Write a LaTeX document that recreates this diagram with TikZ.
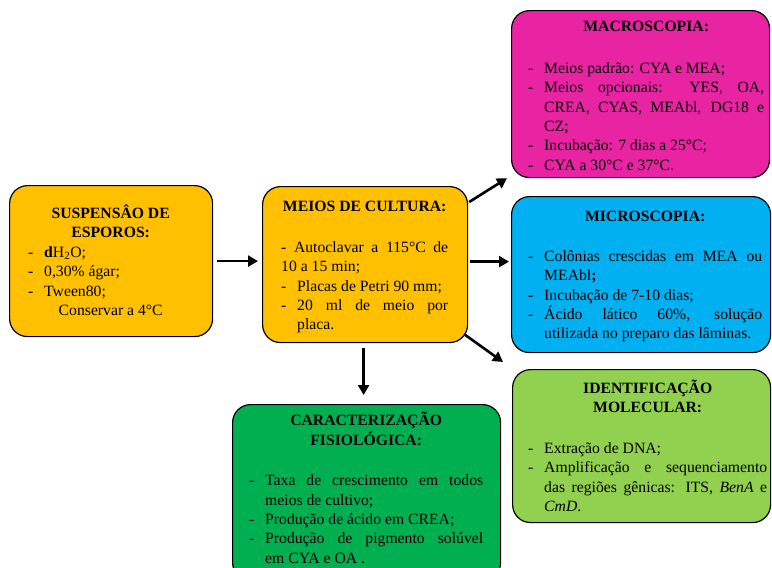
\documentclass[tikz,border=0pt]{standalone}
\usepackage{fontspec}
\setmainfont{Liberation Serif}
\usetikzlibrary{arrows.meta}

\definecolor{laranja}{HTML}{FFC000}
\definecolor{rosa}{RGB}{232,36,163}
\definecolor{azul}{HTML}{00B0F0}
\definecolor{verdeclaro}{HTML}{92D050}
\definecolor{verde}{HTML}{00B050}

\hyphenpenalty=10000
\tolerance=10000
\newlength{\recuo}
\setlength{\recuo}{16pt}
\newcommand{\traco}[1]{\par\hangindent=\recuo\hangafter=1\noindent\makebox[\recuo][l]{-}#1\par}
\newcommand{\titulo}[1]{\noindent\strut\makebox[\linewidth]{\bfseries #1}\par}

\tikzset{
  caixa/.style={draw,line width=1.2pt,rounded corners=18pt,inner sep=0pt,anchor=north west},
  texto/.style={inner sep=0pt,anchor=north west,align=justify,font=\fontsize{15.7pt}{19.4pt}\selectfont},
  seta/.style={line width=2.6pt,-{Triangle[length=10pt,width=11pt]}}
}

\begin{document}
\begin{tikzpicture}[x=1pt,y=-1pt]
\useasboundingbox (0,0) rectangle (772,568);
\clip (0,0) rectangle (772,568);

\node [caixa,fill=laranja,minimum width=203pt,minimum height=151pt] (susp) at (9,185) {};
\node [caixa,fill=laranja,minimum width=205pt,minimum height=156pt] (meios) at (262,186) {};
\node [caixa,fill=rosa,minimum width=258pt,minimum height=167pt] (macro) at (511,10) {};
\node [caixa,fill=azul,minimum width=259pt,minimum height=156pt] (micro) at (511,196) {};
\node [caixa,fill=verdeclaro,minimum width=258pt,minimum height=153pt] (ident) at (512,369) {};
\node [caixa,fill=verde,minimum width=268pt,minimum height=176pt] (carac) at (232,404) {};

\node [texto,text width=165pt] (susptxt) at (28,204.7) {
\titulo{SUSPENSÂO DE}
\titulo{ESPOROS:}
\traco{\textbf{d}H\textsubscript{2}O;}
\traco{0,30\% ágar;}
\traco{Tween80;}
\noindent\makebox[\linewidth]{Conservar a 4°C}\par};

\node [texto,text width=167pt] (meiostxt) at (281,198.1) {
\titulo{MEIOS DE CULTURA:}
\vspace{21pt}
\noindent - Autoclavar a 115°C de\linebreak 10 a 15 min;
\traco{Placas de Petri 90 mm;}
\traco{20 ml de meio por\linebreak placa.}};

\node [texto,text width=236pt] (macrotxt) at (528,18.1) {
\titulo{MACROSCOPIA:}
\vspace{22pt}
\traco{Meios padrão: CYA e MEA;}
\traco{Meios opcionais: YES, OA,\linebreak CREA, CYAS, MEAbl, DG18 e\linebreak CZ;}
\traco{Incubação: 7 dias a 25°C;}
\traco{CYA a 30°C e 37°C.}};

\node [texto,text width=234pt] (microtxt) at (528,208.1) {
\titulo{MICROSCOPIA:}
\vspace{20pt}
\traco{Colônias crescidas em MEA ou\linebreak MEAbl\textbf{;}}
\traco{Incubação de 7-10 dias;}
\traco{Ácido lático 60\%, solução\linebreak utilizada no preparo das lâminas.}};

\node [texto,text width=239pt] (identtxt) at (528,379.7) {
\titulo{IDENTIFICAÇÃO}
\titulo{MOLECULAR:}
\vspace{21pt}
\traco{Extração de DNA;}
\traco{Amplificação e sequenciamento\linebreak das regiões gênicas: ITS, \textit{BenA} e\linebreak \textit{CmD}.}};

\node [texto,text width=234pt] (caractxt) at (249,412.1) {
\titulo{CARACTERIZAÇÃO}
\titulo{FISIOLÓGICA:}
\vspace{21pt}
\traco{Taxa de crescimento em todos\linebreak meios de cultivo;}
\traco{Produção de ácido em CREA;}
\traco{Produção de pigmento solúvel\linebreak em CYA e OA .}};

\draw [seta,shorten <=4pt,shorten >=4pt] (susp.east) -- (susp.east -| meios.west);
\draw [seta,shorten <=2pt,shorten >=2pt] ([yshift=3pt]meios.east) -- ([yshift=3pt]meios.east -| micro.west);
\draw [seta] ([shift={(1,16)}]meios.north east) -- ([shift={(-4,0)}]macro.south west);
\draw [seta] ([shift={(-4,-9)}]meios.south east) -- ([shift={(-9,-7)}]ident.north west);
\draw [seta,shorten <=5pt,shorten >=9pt] ([xshift=-1.5pt]meios.south) -- ([xshift=-1.5pt]meios.south |- carac.north);
\end{tikzpicture}
\end{document}
